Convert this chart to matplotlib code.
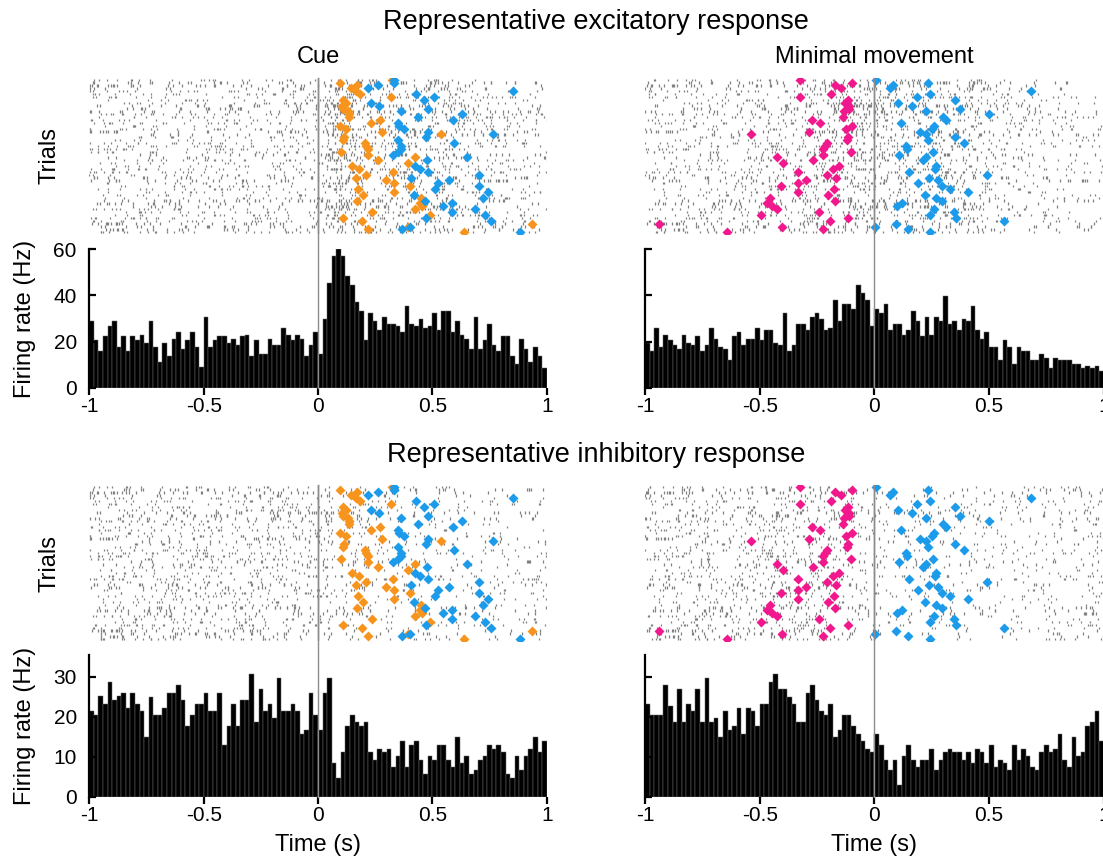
"""Representative excitatory / inhibitory unit responses: spike rasters and PSTHs."""

import matplotlib

matplotlib.use("Agg")
import matplotlib.pyplot as plt
from matplotlib.collections import LineCollection

plt.rcParams["font.family"] = ["Liberation Sans", "DejaVu Sans"]

# PSTH settings
BIN_WIDTH = 0.02
N_TRIALS = 54

# Firing rates (Hz), 100 bins from -1 s to 1 s
EXC_CUE_RATE = [
    28.8, 20.5, 15.9, 22.2, 26.8, 28.8, 17.6, 22.2, 15.9, 22.2,
    20.5, 23.0, 19.3, 28.8, 17.6, 11.1, 19.3, 13.8, 21.3, 24.0,
    16.7, 20.5, 24.0, 17.6, 9.1, 30.5, 17.6, 20.5, 22.2, 22.2,
    19.3, 21.3, 18.4, 22.2, 23.0, 13.8, 20.5, 14.8, 14.8, 21.3,
    18.4, 18.4, 26.0, 23.0, 20.5, 23.0, 21.3, 13.8, 18.4, 24.0,
    14.8, 29.7, 45.4, 57.0, 60.2, 57.0, 48.3, 44.7, 37.2, 33.3,
    20.5, 32.6, 28.8, 25.0, 30.5, 27.8, 27.8, 26.8, 24.0, 35.3,
    27.8, 26.8, 29.7, 26.0, 26.8, 32.6, 25.0, 33.3, 33.3, 24.0,
    28.8, 23.0, 21.3, 16.7, 30.5, 16.7, 20.5, 27.8, 18.4, 15.9,
    22.2, 22.2, 13.8, 10.1, 21.3, 16.7, 11.1, 17.6, 13.8, 8.4,
]
EXC_MOVE_RATE = [
    19.3, 15.9, 26.0, 17.6, 23.0, 20.5, 18.4, 16.7, 23.0, 19.3,
    18.4, 22.2, 15.9, 18.4, 26.0, 21.3, 17.6, 16.7, 12.0, 22.2,
    24.0, 18.4, 21.3, 21.3, 26.0, 20.5, 25.0, 25.0, 19.3, 18.4,
    32.6, 15.9, 18.4, 27.8, 27.8, 25.0, 30.5, 32.6, 29.7, 25.0,
    26.0, 38.0, 28.8, 36.2, 36.2, 34.3, 44.7, 40.9, 38.0, 26.8,
    34.3, 32.6, 36.2, 25.0, 27.8, 27.8, 23.0, 25.0, 33.3, 28.8,
    22.2, 30.5, 23.0, 30.5, 28.8, 39.9, 27.8, 28.8, 25.0, 29.7,
    28.8, 35.3, 25.0, 21.3, 24.0, 17.6, 17.6, 12.0, 20.5, 17.6,
    10.1, 17.6, 15.9, 15.9, 12.0, 12.0, 14.8, 13.0, 8.4, 13.0,
    12.0, 12.0, 12.0, 10.1, 10.1, 8.4, 9.2, 8.4, 9.2, 7.3,
]
INH_CUE_RATE = [
    21.4, 20.4, 25.2, 23.3, 28.8, 24.2, 25.2, 26.0, 22.3, 26.0,
    23.3, 21.4, 14.9, 25.0, 20.4, 20.4, 22.3, 26.0, 26.0, 27.9,
    24.2, 17.7, 20.4, 23.3, 23.3, 26.0, 21.4, 21.4, 26.0, 13.0,
    17.7, 23.3, 17.7, 24.2, 24.2, 30.7, 18.7, 26.9, 21.4, 23.3,
    19.6, 29.7, 21.4, 21.4, 23.3, 21.4, 15.8, 16.8, 26.0, 20.4,
    16.8, 26.0, 29.7, 8.4, 4.75, 11.2, 17.7, 20.4, 18.7, 17.7,
    18.7, 11.2, 9.3, 12.0, 11.2, 12.0, 7.5, 10.3, 14.0, 7.5,
    13.0, 14.0, 9.3, 5.7, 10.3, 9.3, 13.0, 13.0, 9.3, 7.5,
    14.9, 8.4, 10.3, 5.7, 6.6, 9.3, 10.3, 13.0, 12.0, 13.0,
    11.2, 5.7, 4.75, 10.3, 6.6, 10.3, 12.0, 14.9, 11.2, 14.0,
]
INH_MOVE_RATE = [
    23.3, 20.4, 20.4, 20.4, 27.9, 22.6, 18.7, 26.9, 18.7, 23.3,
    21.4, 26.9, 18.7, 29.7, 18.7, 19.6, 14.9, 21.4, 16.8, 17.7,
    22.3, 15.8, 22.3, 21.4, 17.7, 23.3, 23.3, 28.8, 30.7, 26.9,
    26.9, 25.0, 23.3, 18.7, 18.7, 26.0, 27.9, 24.2, 21.4, 20.4,
    23.3, 14.9, 16.8, 20.4, 20.4, 17.7, 15.8, 14.0, 12.0, 11.2,
    15.8, 13.0, 9.3, 6.6, 9.3, 2.9, 10.3, 13.0, 9.3, 7.5,
    9.3, 9.3, 12.0, 6.6, 9.3, 11.2, 12.0, 11.2, 11.2, 9.3,
    11.2, 8.4, 12.0, 11.2, 8.4, 13.0, 7.5, 9.3, 8.4, 6.6,
    13.0, 9.3, 12.0, 10.3, 7.5, 6.6, 11.2, 13.0, 11.2, 12.0,
    15.8, 9.3, 7.5, 14.9, 10.3, 11.2, 17.7, 18.7, 21.4, 14.0,
]

# Behavioural events per trial (time in s, trial index from top)
CUE_ORANGE_T = [
    0.322, 0.096, 0.172, 0.143, 0.165, 0.184, 0.319, 0.111, 0.124, 0.106,
    0.109, 0.131, 0.135, 0.134, 0.271, 0.233, 0.096, 0.124, 0.281, 0.536,
    0.114, 0.111, 0.204, 0.211, 0.219, 0.099, 0.219, 0.423, 0.264, 0.394,
    0.150, 0.179, 0.328, 0.208, 0.168, 0.296, 0.332, 0.404, 0.176, 0.332,
    0.198, 0.452, 0.169, 0.446, 0.456, 0.423, 0.238, 0.490, 0.111, 0.191,
    0.934, 0.395, 0.219, 0.638,
]
CUE_ORANGE_TRIAL = list(range(54))
CUE_BLUE_T = [
    0.334, 0.334, 0.261, 0.217, 0.854, 0.427, 0.507, 0.465, 0.232, 0.268,
    0.483, 0.363, 0.631, 0.439, 0.592, 0.348, 0.354, 0.378, 0.480, 0.764,
    0.471, 0.348, 0.596, 0.362, 0.364, 0.348, 0.327, 0.650, 0.478, 0.423,
    0.446, 0.481, 0.703, 0.408, 0.574, 0.525, 0.703, 0.512, 0.742, 0.420,
    0.720, 0.466, 0.586, 0.545, 0.687, 0.586, 0.732, 0.471, 0.757, 0.401,
    0.367, 0.883,
]
CUE_BLUE_TRIAL = [
    0, 1, 2, 3, 4, 5, 6, 7, 8, 9,
    10, 11, 12, 13, 14, 15, 16, 17, 18, 19,
    20, 21, 22, 23, 24, 25, 26, 27, 28, 30,
    31, 32, 33, 34, 35, 36, 37, 38, 39, 40,
    41, 42, 43, 44, 45, 46, 47, 48, 49, 51,
    52, 53,
]
MOVE_PINK_T = [
    -0.325, -0.098, -0.173, -0.144, -0.187, -0.322, -0.117, -0.128, -0.109, -0.109,
    -0.133, -0.137, -0.274, -0.236, -0.099, -0.125, -0.284, -0.538, -0.117, -0.118,
    -0.208, -0.217, -0.222, -0.101, -0.222, -0.426, -0.268, -0.397, -0.152, -0.182,
    -0.331, -0.208, -0.169, -0.299, -0.335, -0.408, -0.178, -0.335, -0.201, -0.453,
    -0.172, -0.466, -0.446, -0.426, -0.241, -0.493, -0.115, -0.194, -0.937, -0.402,
    -0.222, -0.641,
]
MOVE_PINK_TRIAL = [
    0, 1, 2, 3, 5, 6, 7, 8, 9, 10,
    11, 13, 14, 15, 16, 17, 18, 19, 20, 21,
    22, 23, 24, 25, 26, 27, 28, 29, 30, 31,
    32, 33, 34, 35, 36, 37, 38, 39, 40, 41,
    42, 43, 44, 45, 46, 47, 48, 49, 50, 51,
    52, 53,
]
MOVE_BLUE_T = [
    0.007, 0.236, 0.080, 0.070, 0.685, 0.242, 0.184, 0.351, 0.102, 0.162,
    0.373, 0.226, 0.500, 0.300, 0.313, 0.117, 0.259, 0.251, 0.197, 0.226,
    0.353, 0.235, 0.392, 0.138, 0.143, 0.254, 0.109, 0.226, 0.214, 0.268,
    0.265, 0.153, 0.493, 0.238, 0.276, 0.191, 0.296, 0.332, 0.408, 0.219,
    0.267, 0.296, 0.120, 0.098, 0.262, 0.347, 0.241, 0.357, 0.566, 0.095,
    0.003, 0.146, 0.243,
]
MOVE_BLUE_TRIAL = [
    0, 1, 2, 3, 4, 5, 6, 7, 8, 9,
    10, 11, 12, 13, 14, 15, 16, 17, 18, 19,
    20, 21, 22, 23, 24, 25, 26, 27, 28, 30,
    31, 32, 33, 34, 35, 36, 37, 38, 39, 40,
    41, 42, 43, 44, 45, 46, 47, 48, 49, 50,
    51, 52, 53,
]

X_TICKS = [-1, -0.5, 0, 0.5, 1]
X_TICK_LABELS = ["-1", "-0.5", "0", "0.5", "1"]

ORANGE = "#F7941D"
BLUE = "#1B9BEA"
PINK = "#F0188C"
SPIKE_GREY = "#808080"
ZERO_GREY = "#8c8c8c"

W, H = 1103, 866
FS = 17


def px_box(x0, y0, x1, y1):
    """Convert a pixel box (top-left origin) to figure coordinates."""
    return [x0 / W, 1 - y1 / H, (x1 - x0) / W, (y1 - y0) / H]


def raster_from_rate(rates, offset):
    """Spread each bin's spike count over the trials (deterministic layout)."""
    segs = []
    g = offset
    for b, r in enumerate(rates):
        n = int(round(r * N_TRIALS * BIN_WIDTH))
        left = -1 + b * BIN_WIDTH
        for _ in range(n):
            g += 1
            trial = int(((g * 0.6180339887 + g * g * 0.4142135624) % 1) * N_TRIALS)
            t = left + BIN_WIDTH * ((g * 0.7548776662 + g * g * 0.2360679775) % 1)
            segs.append([(t, trial - 0.4), (t, trial + 0.4)])
    return segs


def draw_raster(ax, rates, events, offset):
    ax.add_collection(LineCollection(raster_from_rate(rates, offset),
                                     colors=SPIKE_GREY, linewidths=0.9))
    ax.axvline(0, color="#707070", lw=1.0, zorder=2)
    for times, trials, color in events:
        ax.plot(times, trials, "D", color=color, ms=4.8, mec="none", zorder=3)
    ax.set_xlim(-1, 1)
    ax.set_ylim(N_TRIALS - 0.4, -0.6)
    ax.axis("off")


def draw_psth(ax, rates, ymax, yticks, show_ylabels, zero_top):
    centers = [-1 + BIN_WIDTH * (i + 0.5) for i in range(len(rates))]
    ax.bar(centers, rates, width=BIN_WIDTH, color="black",
           edgecolor="#6a6a6a", linewidth=0.35)
    ax.plot([0, 0], [0, zero_top], transform=ax.get_xaxis_transform(),
            color=ZERO_GREY, lw=1.0, clip_on=False, zorder=4)
    ax.set_xlim(-1, 1)
    ax.set_ylim(0, ymax)
    ax.set_xticks(X_TICKS)
    ax.set_xticklabels(X_TICK_LABELS)
    ax.set_yticks(yticks)
    if not show_ylabels:
        ax.set_yticklabels([])
    for side in ("top", "right", "bottom"):
        ax.spines[side].set_visible(False)
    ax.spines["left"].set_linewidth(1.6)
    ax.tick_params(axis="x", direction="out", length=5, width=1.6,
                   labelsize=FS - 2, pad=2)
    ax.tick_params(axis="y", direction="in", length=5, width=1.6,
                   labelsize=FS - 2, pad=9)


fig = plt.figure(figsize=(W / 100, H / 100), dpi=100)

COLS = [(89.3, 546.7), (645.0, 1103.7)]
BLOCKS = [
    # raster top, raster bottom, psth top, psth bottom, ymax, yticks
    (78, 234, 249.3, 387.7, 60, [0, 20, 40, 60]),
    (485, 641, 654.7, 796.7, 35.5, [0, 10, 20, 30]),
]
RATES = [[EXC_CUE_RATE, EXC_MOVE_RATE], [INH_CUE_RATE, INH_MOVE_RATE]]
EVENTS = [
    [(CUE_ORANGE_T, CUE_ORANGE_TRIAL, ORANGE), (CUE_BLUE_T, CUE_BLUE_TRIAL, BLUE)],
    [(MOVE_PINK_T, MOVE_PINK_TRIAL, PINK), (MOVE_BLUE_T, MOVE_BLUE_TRIAL, BLUE)],
]

for bi, (rt, rb, pt, pb, ymax, yticks) in enumerate(BLOCKS):
    for ci, (x0, x1) in enumerate(COLS):
        rax = fig.add_axes(px_box(x0, rt, x1, rb))
        draw_raster(rax, RATES[bi][ci], EVENTS[ci], offset=bi * 7 + ci * 3)
        pax = fig.add_axes(px_box(x0, pt, x1, pb))
        draw_psth(pax, RATES[bi][ci], ymax, yticks, ci == 0,
                  zero_top=(pb - rt) / (pb - pt))
        if bi == 1:
            fig.text((x0 + x1) / 2 / W, 1 - 845 / H, "Time (s)",
                     ha="center", va="center", fontsize=FS)
    fig.text(50 / W, 1 - (rt + rb) / 2 / H, "Trials", rotation=90,
             ha="center", va="center", fontsize=FS)
    fig.text(25 / W, 1 - (pt + pb) / 2 / H, "Firing rate (Hz)", rotation=90,
             ha="center", va="center", fontsize=FS)

fig.text(596 / W, 1 - 22 / H, "Representative excitatory response",
         ha="center", va="center", fontsize=19.5)
fig.text(596 / W, 1 - 455 / H, "Representative inhibitory response",
         ha="center", va="center", fontsize=19.5)
fig.text(318 / W, 1 - 57 / H, "Cue", ha="center", va="center", fontsize=FS)
fig.text(874.5 / W, 1 - 57 / H, "Minimal movement", ha="center",
         va="center", fontsize=FS)

fig.savefig("out.png", dpi=100)
plt.close(fig)
